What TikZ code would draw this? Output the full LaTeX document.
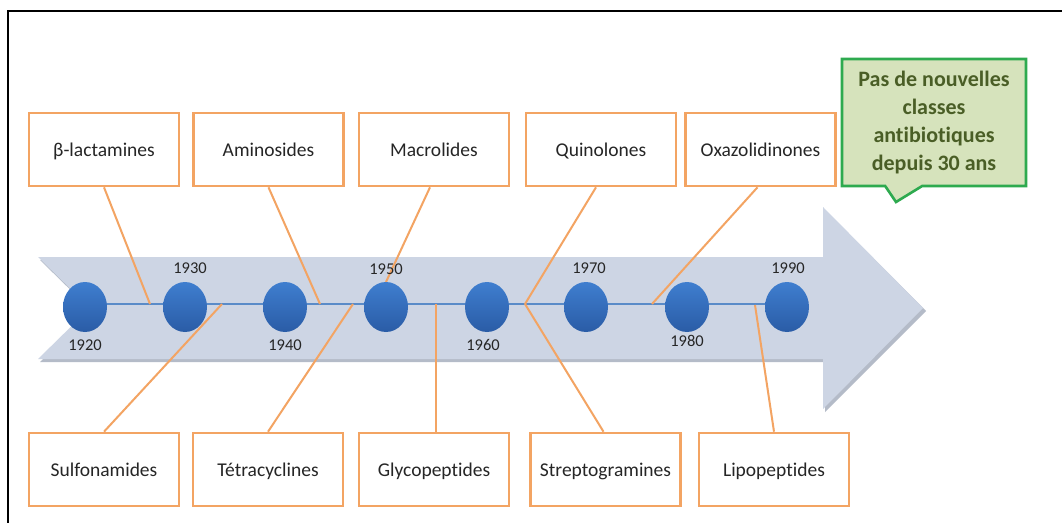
\documentclass[tikz,border=0pt]{standalone}
\usepackage{fontspec}
\setmainfont{Carlito}[Ligatures=NoCommon]
\usetikzlibrary{shapes.geometric,shapes.callouts}
\definecolor{orng}{HTML}{F3A463}
\definecolor{bandc}{HTML}{CDD5E4}
\definecolor{bandsh}{HTML}{B4BBC8}
\definecolor{linec}{HTML}{5A8BC8}
\definecolor{ballhi}{HTML}{3F7ECF}
\definecolor{balllo}{HTML}{2A5CA6}
\definecolor{txt}{HTML}{262626}
\definecolor{gfill}{HTML}{D6E3BC}
\definecolor{gline}{HTML}{2EAA4F}
\definecolor{gtxt}{HTML}{4A5E26}
\tikzset{
  labelbox/.style={draw=orng, line width=2.6pt, fill=white, minimum width=150pt, minimum height=73pt,
    inner sep=0pt, text height=15pt, text depth=2pt, font=\fontsize{19.5}{22}\selectfont, text=txt},
  conn/.style={draw=orng, line width=2pt},
  ball/.style={ellipse, minimum width=44pt, minimum height=50pt, inner sep=0pt,
    top color=ballhi, bottom color=balllo, draw=none},
  year/.style={font=\fontsize{16.5}{18}\selectfont, text=txt, inner sep=0pt},
  note/.style={rectangle callout, draw=gline, line width=2.6pt, fill=gfill, text=gtxt,
    minimum width=184pt, minimum height=127pt, inner sep=0pt, align=center,
    font=\bfseries\fontsize{22}{28}\selectfont, callout pointer width=37pt}
}
\begin{document}
\begin{tikzpicture}[x=1pt,y=-1pt]
\useasboundingbox (0,0) rectangle (1062,522);
\clip (0,0) rectangle (1062,522);
\fill[white] (0,0) rectangle (1062,522);
% frame
\draw[line width=2pt, black] (8,540) -- (8,11) -- (1080,11);
% band arrow with shadow
\fill[bandsh] (40,260) -- (825,260) -- (825,210) -- (926,311) -- (825,412) -- (825,362) -- (40,362) -- (92,311) -- cycle;
\fill[bandc] (38,257) -- (823,257) -- (823,207) -- (923,308) -- (823,409) -- (823,359) -- (38,359) -- (90,308) -- cycle;
% centre line
\draw[linec, line width=1.3pt] (85,304) -- (787,304);
% connector ends on the line
\coordinate (eBeta) at (150,304);
\coordinate (eAmin) at (320,304);
\coordinate (eMacr) at (386,282);
\coordinate (eQuin) at (525,304);
\coordinate (eOxaz) at (652,304);
\coordinate (eSulf) at (222,304);
\coordinate (eTetr) at (353,304);
\coordinate (eGlyc) at (436,304);
\coordinate (eLipo) at (755,305);
% boxes
\node[labelbox] (beta) at (104,149.5) {β-lactamines};
\node[labelbox] (amin) at (268.5,149.5) {Aminosides};
\node[labelbox] (macr) at (434,149.5) {Macrolides};
\node[labelbox] (quin) at (601,149.5) {Quinolones};
\node[labelbox] (oxaz) at (760.5,149.5) {Oxazolidinones};
\node[labelbox] (sulf) at (104,469.5) {Sulfonamides};
\node[labelbox] (tetr) at (268,469.5) {Tétracyclines};
\node[labelbox] (glyc) at (434,469.5) {Glycopeptides};
\node[labelbox] (strep) at (605.5,469.5) {Streptogramines};
\node[labelbox] (lipo) at (774,469.5) {Lipopeptides};
% connectors
\draw[conn] (beta.south) -- (eBeta);
\draw[conn] (amin.south) -- (eAmin);
\draw[conn] ([xshift=-4pt]macr.south) -- (eMacr);
\draw[conn] ([xshift=-5pt]quin.south) -- (eQuin);
\draw[conn] ([xshift=-3pt]oxaz.south) -- (eOxaz);
\draw[conn] (sulf.north) -- (eSulf);
\draw[conn] (tetr.north) -- (eTetr);
\draw[conn] ([xshift=2pt]glyc.north) -- (eGlyc);
\draw[conn] ([xshift=-2pt]strep.north) -- (eQuin);
\draw[conn] (lipo.north) -- (eLipo);
% balls
\node[ball] (b1920) at (85,307) {};
\node[ball] (b1930) at (185,307) {};
\node[ball] (b1940) at (285,307) {};
\node[ball] (b1950) at (386,307) {};
\node[ball] (b1960) at (487,307) {};
\node[ball] (b1970) at (586,307) {};
\node[ball] (b1980) at (687,307) {};
\node[ball] (b1990) at (787,307) {};
% years
\node[year] (y1920) at (85,345) {1920};
\node[year] (y1930) at (190,268) {1930};
\node[year] (y1940) at (285,345) {1940};
\node[year] (y1950) at (386,269) {1950};
\node[year] (y1960) at (483,345) {1960};
\node[year] (y1970) at (589,268) {1970};
\node[year] (y1980) at (687,341) {1980};
\node[year] (y1990) at (788,268) {1990};
% note
\node[note, callout absolute pointer={(896,202)}] (note) at (934,122.5)
  {Pas de nouvelles\\classes\\antibiotiques\\depuis 30 ans};
\end{tikzpicture}
\end{document}
